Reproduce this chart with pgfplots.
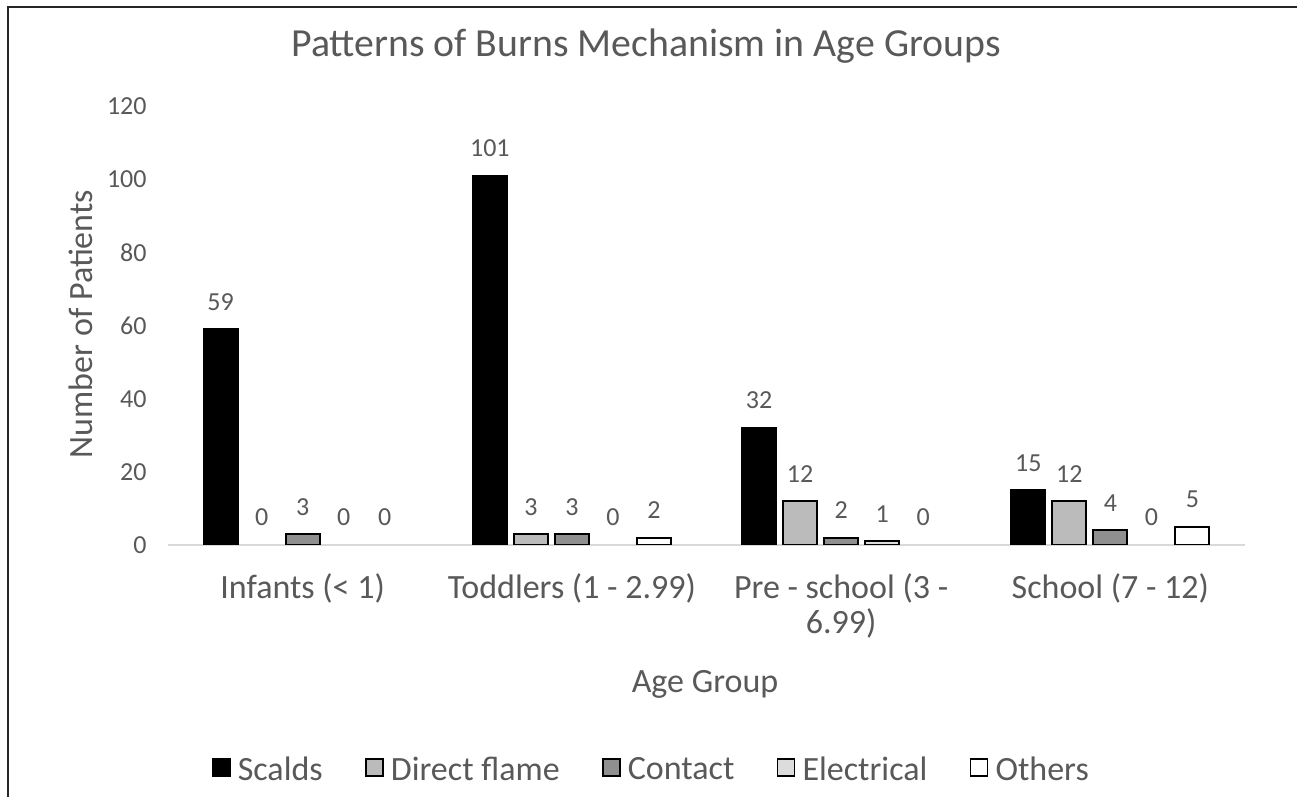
\documentclass[border=0pt]{standalone}
\usepackage{fontspec}
\setmainfont{Carlito}
\usepackage{pgfplots}
\pgfplotsset{compat=1.18}
\definecolor{txt}{HTML}{595959}
\definecolor{cflame}{HTML}{BBBBBB}
\definecolor{ccontact}{HTML}{8F8F8F}
\definecolor{celec}{HTML}{DCDCDC}
\definecolor{axisline}{HTML}{D9D9D9}
\pgfplotsset{
  mybar/.style={ybar, bar width=17pt, bar shift=#1, draw=black, line width=0.9pt,
    legend image code/.code={\draw[##1, line width=0.7pt] (0pt,-3pt) rectangle (8.5pt,5.5pt); \path (10pt,0pt);}},
  mylab/.style={forget plot, draw=none, mark=none, nodes near coords,
    every node near coord/.append style={xshift=#1, anchor=base, yshift=9.5pt, inner sep=0pt,
      font=\fontsize{13}{15}\selectfont, text=txt}},
}
\begin{document}
\begin{tikzpicture}
\path[use as bounding box] (0,0) rectangle (648.5pt,398.5pt);
\fill[white] (0,0) rectangle (648.5pt,398.5pt);
\draw[line width=1.3pt, black!85] (4pt,0) -- (4pt,395pt) -- (648.5pt,395pt);
\begin{axis}[
  at={(84pt,126pt)}, anchor=south west,
  scale only axis, width=538.5pt, height=219.5pt,
  xmin=-0.5, xmax=3.5, ymin=0, ymax=120,
  axis x line=bottom, axis y line=left,
  x axis line style={draw=axisline, line width=1pt, -},
  y axis line style={draw=none},
  major tick length=0pt,
  xtick={0,1,2,3},
  xticklabels={Infants (< 1), Toddlers (1 - 2.99), {Pre - school (3 -\\6.99)}, School (7 - 12)},
  xticklabel style={font=\fontsize{17}{17.5}\selectfont, text=txt, align=center, anchor=north, inner sep=0pt, yshift=-14pt},
  ytick={0,20,...,120},
  yticklabel style={font=\fontsize{13}{15}\selectfont, text=txt, anchor=east, inner sep=0pt, xshift=-10.5pt},
  /pgf/number format/assume math mode=true,
  legend columns=5,
  legend style={at={(rel axis cs:0.5,0)}, anchor=center, xshift=-27pt, yshift=-112.5pt,
    draw=none, fill=none, font=\fontsize{17}{19}\selectfont, text=txt,
    /tikz/every even column/.append style={column sep=19.25pt}},
]
\addplot[mybar=-41pt, fill=black] coordinates {(0,59) (1,101) (2,32) (3,15)};
\addlegendentry{Scalds}
\addplot[mybar=-20.5pt, fill=cflame] coordinates {(1,3) (2,12) (3,12)};
\addlegendentry{Direct flame}
\addplot[mybar=0pt, fill=ccontact] coordinates {(0,3) (1,3) (2,2) (3,4)};
\addlegendentry{Contact}
\addplot[mybar=20.5pt, fill=celec] coordinates {(2,1)};
\addlegendentry{Electrical}
\addplot[mybar=41pt, fill=white] coordinates {(1,2) (3,5)};
\addlegendentry{Others}
\addplot[mylab=-41pt] coordinates {(0,59) (1,101) (2,32) (3,15)};
\addplot[mylab=-20.5pt] coordinates {(0,0) (1,3) (2,12) (3,12)};
\addplot[mylab=0pt] coordinates {(0,3) (1,3) (2,2) (3,4)};
\addplot[mylab=20.5pt] coordinates {(0,0) (1,0) (2,1) (3,0)};
\addplot[mylab=41pt] coordinates {(0,0) (1,2) (2,0) (3,5)};
\end{axis}
\node[font=\fontsize{19.9}{22}\selectfont, text=txt, anchor=base] at (323pt,370pt) {Patterns of Burns Mechanism in Age Groups};
\node[font=\fontsize{17}{19}\selectfont, text=txt, anchor=base] at (352.5pt,52pt) {Age Group};
\node[font=\fontsize{17}{19}\selectfont, text=txt, anchor=base, rotate=90] at (46pt,236.5pt) {Number of Patients};
\end{tikzpicture}
\end{document}
